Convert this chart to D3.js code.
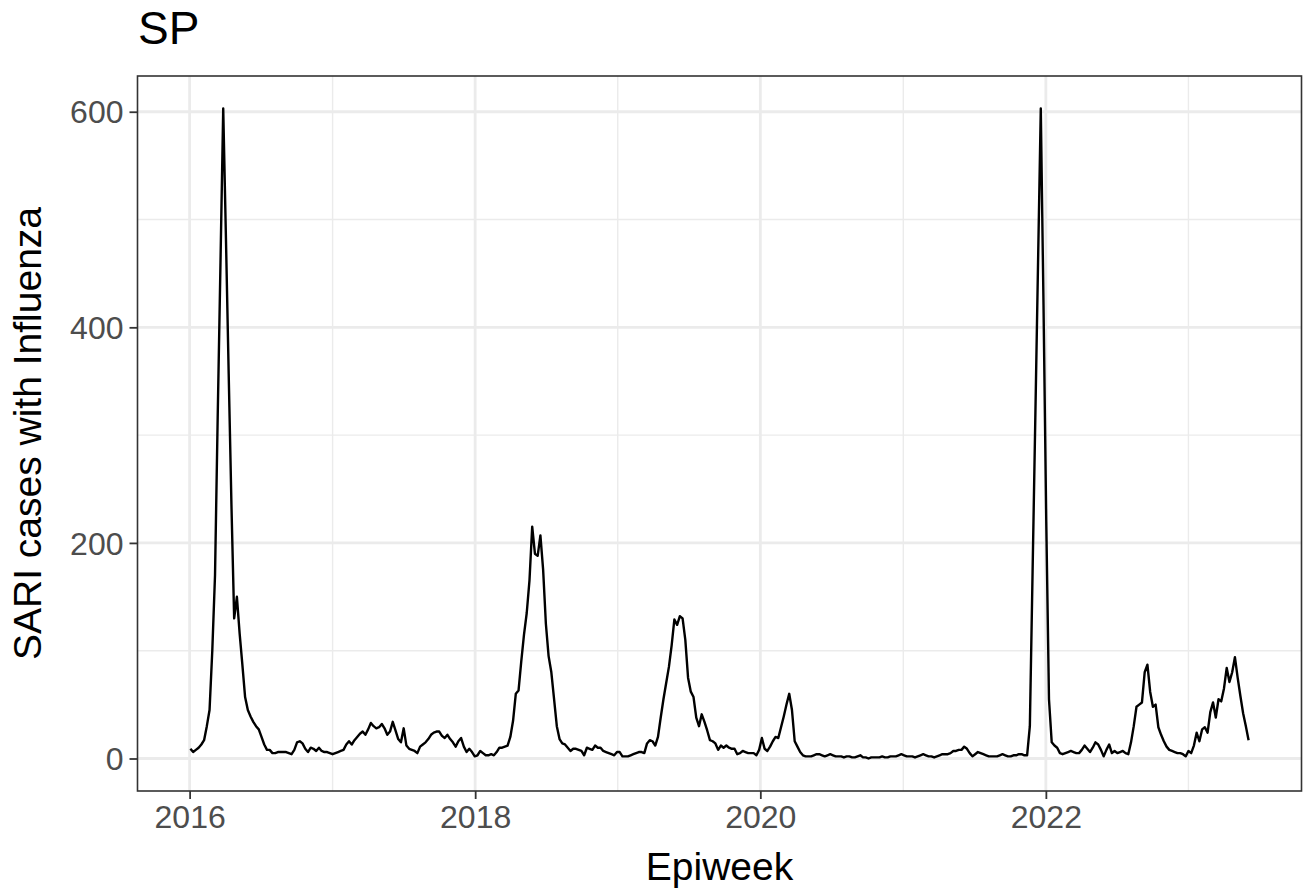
<!DOCTYPE html>
<html>
<head>
<meta charset="utf-8">
<script src="https://cdn.jsdelivr.net/npm/d3@7"></script>
<style>
  html, body { margin: 0; padding: 0; background: #fff; }
  svg { display: block; font-family: "Liberation Sans", Arial, Helvetica, sans-serif; }
</style>
</head>
<body>
<svg id="chart" width="1303" height="894"></svg>
<script>
// Weekly SARI cases with confirmed influenza, state of SP, epiweek 1/2016 onward
const plotTitle = "SP";
const xTitle = "Epiweek";
const yTitle = "SARI cases with Influenza";
const firstEpiweek = "2016-01-03";

const cases = [
  9, 6, 8, 10, 13, 17, 30, 45, 100, 170,
  320, 460, 603, 482, 357, 236, 130, 150, 116, 87,
  57, 45, 39, 34, 30, 27, 20, 13, 8, 8,
  5, 5, 6, 6, 6, 6, 5, 4, 8, 15,
  16, 14, 9, 6, 10, 9, 7, 10, 7, 6,
  6, 5, 4, 5, 6, 7, 8, 13, 16, 13,
  17, 20, 23, 25, 22, 27, 33, 30, 28, 29,
  32, 28, 22, 25, 34, 26, 18, 15, 28, 12,
  9, 8, 7, 5, 11, 13, 15, 18, 22, 24,
  25, 25, 21, 19, 22, 18, 15, 11, 16, 19,
  11, 6, 9, 6, 2, 3, 7, 5, 3, 3,
  4, 3, 6, 10, 10, 11, 12, 20, 35, 60,
  63, 90, 115, 135, 165, 215, 190, 188, 207, 175,
  125, 95, 80, 55, 30, 18, 14, 13, 10, 7,
  9, 9, 8, 7, 3, 10, 9, 8, 12, 10,
  10, 7, 6, 5, 4, 3, 6, 6, 2, 2,
  2, 3, 4, 5, 6, 6, 5, 14, 17, 16,
  12, 20, 38, 55, 70, 85, 105, 129, 124, 132,
  130, 110, 75, 62, 57, 38, 30, 41, 34, 26,
  17, 16, 14, 8, 12, 10, 12, 10, 9, 9,
  4, 5, 7, 6, 5, 5, 5, 3, 8, 19,
  9, 7, 11, 16, 20, 19, 29, 39, 50, 60,
  45, 16, 11, 6, 3, 2, 2, 2, 3, 4,
  4, 3, 2, 3, 4, 3, 2, 2, 2, 1,
  2, 2, 1, 1, 2, 3, 1, 1, 0, 1,
  1, 1, 1, 2, 1, 1, 2, 2, 2, 3,
  4, 3, 2, 2, 2, 1, 2, 3, 4, 3,
  2, 2, 1, 2, 3, 4, 4, 4, 5, 7,
  7, 8, 8, 11, 9, 5, 2, 4, 6, 5,
  4, 3, 2, 2, 2, 2, 3, 4, 3, 2,
  2, 3, 3, 4, 4, 3, 3, 30, 173, 316,
  460, 603, 420, 220, 55, 15, 12, 10, 5, 4,
  5, 6, 7, 6, 5, 5, 8, 12, 9, 6,
  10, 15, 13, 8, 2, 8, 13, 5, 7, 5,
  6, 7, 5, 4, 15, 30, 48, 50, 52, 80,
  87, 62, 48, 50, 29, 22, 16, 11, 8, 7,
  6, 5, 5, 4, 2, 7, 5, 12, 24, 16,
  27, 29, 24, 43, 52, 38, 55, 53, 65, 84,
  71, 80, 94, 75, 58, 42, 30, 17
];

const xMajorYears = [2016, 2018, 2020, 2022];
const xMinorYears = [2017, 2019, 2021, 2023];
const yMajorTicks = [0, 200, 400, 600];
const yMinorTicks = [100, 300, 500];

// One point per epiweek
const start = new Date(firstEpiweek + "T00:00:00Z");
const series = cases.map((v, i) => ({ date: d3.utcWeek.offset(start, i), value: v }));

const svg = d3.select("#chart");
const panel = { left: 137.5, right: 1301.5, top: 76, bottom: 791 };

// Continuous scales padded by 5% of the data range on each side
function padded(lo, hi) {
  const pad = (hi - lo) * 0.05;
  return [lo - pad, hi + pad];
}
const tExt = d3.extent(series, d => +d.date);
const x = d3.scaleUtc()
  .domain(padded(tExt[0], tExt[1]).map(t => new Date(t)))
  .range([panel.left, panel.right]);
const yExt = d3.extent(series, d => d.value);
const y = d3.scaleLinear()
  .domain(padded(yExt[0], yExt[1]))
  .range([panel.bottom, panel.top]);

const yearDate = yr => new Date(Date.UTC(yr, 0, 1));

// Panel background
svg.append("rect")
  .attr("x", panel.left).attr("y", panel.top)
  .attr("width", panel.right - panel.left).attr("height", panel.bottom - panel.top)
  .attr("fill", "#ffffff");

// Grid lines
const grid = svg.append("g");
grid.selectAll("line.ymin").data(yMinorTicks).join("line")
  .attr("x1", panel.left).attr("x2", panel.right)
  .attr("y1", d => y(d)).attr("y2", d => y(d))
  .attr("stroke", "#ebebeb").attr("stroke-width", 1.4);
grid.selectAll("line.xmin").data(xMinorYears).join("line")
  .attr("y1", panel.top).attr("y2", panel.bottom)
  .attr("x1", d => x(yearDate(d))).attr("x2", d => x(yearDate(d)))
  .attr("stroke", "#ebebeb").attr("stroke-width", 1.4);
grid.selectAll("line.ymaj").data(yMajorTicks).join("line")
  .attr("x1", panel.left).attr("x2", panel.right)
  .attr("y1", d => y(d)).attr("y2", d => y(d))
  .attr("stroke", "#ebebeb").attr("stroke-width", 2.8);
grid.selectAll("line.xmaj").data(xMajorYears).join("line")
  .attr("y1", panel.top).attr("y2", panel.bottom)
  .attr("x1", d => x(yearDate(d))).attr("x2", d => x(yearDate(d)))
  .attr("stroke", "#ebebeb").attr("stroke-width", 2.8);

// Case curve
svg.append("path")
  .datum(series)
  .attr("fill", "none")
  .attr("stroke", "#000")
  .attr("stroke-width", 2.4)
  .attr("stroke-linejoin", "round")
  .attr("d", d3.line().x(d => x(d.date)).y(d => y(d.value)));

// Panel border
svg.append("rect")
  .attr("x", panel.left).attr("y", panel.top)
  .attr("width", panel.right - panel.left).attr("height", panel.bottom - panel.top)
  .attr("fill", "none").attr("stroke", "#333333").attr("stroke-width", 1.6);

// Axes
const xAxis = d3.axisBottom(x)
  .tickValues(xMajorYears.map(yearDate))
  .tickFormat(d3.utcFormat("%Y"))
  .tickSizeInner(8).tickSizeOuter(0).tickPadding(6);
const yAxis = d3.axisLeft(y)
  .tickValues(yMajorTicks)
  .tickFormat(d3.format("d"))
  .tickSizeInner(8).tickSizeOuter(0).tickPadding(6);

const gx = svg.append("g").attr("transform", `translate(0,${panel.bottom})`).call(xAxis);
const gy = svg.append("g").attr("transform", `translate(${panel.left},0)`).call(yAxis);
[gx, gy].forEach(g => {
  g.select(".domain").remove();
  g.selectAll(".tick line").attr("stroke", "#333333").attr("stroke-width", 1.8);
  g.selectAll(".tick text")
    .attr("fill", "#4d4d4d")
    .style("font-size", "32px")
    .style("font-family", "'Liberation Sans', Arial, sans-serif");
});
gy.selectAll(".tick text").attr("dy", "0.35em");

// Titles
svg.append("text")
  .attr("x", 138).attr("y", 44)
  .attr("fill", "#000")
  .style("font-size", "46px")
  .text(plotTitle);

svg.append("text")
  .attr("x", (panel.left + panel.right) / 2).attr("y", 880)
  .attr("text-anchor", "middle")
  .attr("fill", "#000")
  .style("font-size", "39px")
  .text(xTitle);

svg.append("text")
  .attr("transform", `translate(41,${(panel.top + panel.bottom) / 2}) rotate(-90)`)
  .attr("text-anchor", "middle")
  .attr("fill", "#000")
  .style("font-size", "39px")
  .text(yTitle);
</script>
</body>
</html>
